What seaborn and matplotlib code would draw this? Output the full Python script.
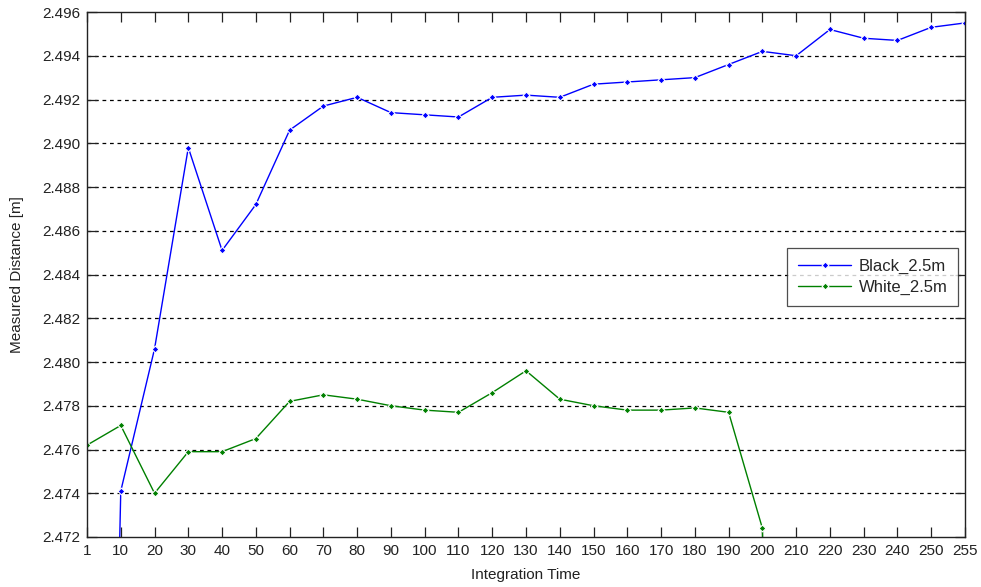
import numpy as np
import pandas as pd
import seaborn as sns
import matplotlib
matplotlib.use("Agg")
import matplotlib.pyplot as plt

# Integration time settings (evenly spaced on the axis)
integration_time = ["1", "10", "20", "30", "40", "50", "60", "70", "80", "90",
                    "100", "110", "120", "130", "140", "150", "160", "170", "180",
                    "190", "200", "210", "220", "230", "240", "250", "255"]

# Measured distance for the black target [m]
black_2_5m = [2.4046, 2.4741, 2.4806, 2.4898, 2.4851, 2.4872, 2.4906, 2.4917,
              2.4921, 2.4914, 2.4913, 2.4912, 2.4921, 2.4922, 2.4921, 2.4927,
              2.4928, 2.4929, 2.4930, 2.4936, 2.4942, 2.4940, 2.4952, 2.4948,
              2.4947, 2.4953, 2.4955]

# Measured distance for the white target [m]
white_2_5m = [2.4762, 2.4771, 2.4740, 2.4759, 2.4759, 2.4765, 2.4782, 2.4785,
              2.4783, 2.4780, 2.4778, 2.4777, 2.4786, 2.4796, 2.4783, 2.4780,
              2.4778, 2.4778, 2.4779, 2.4777, 2.4724, 2.4000]

series_names = ["Black_2.5m", "White_2.5m"]
series_colors = ["#0000ff", "#008000"]

pos = np.arange(len(integration_time))
df = pd.concat([
    pd.DataFrame({"pos": pos[:len(black_2_5m)], "dist": black_2_5m,
                  "series": series_names[0]}),
    pd.DataFrame({"pos": pos[:len(white_2_5m)], "dist": white_2_5m,
                  "series": series_names[1]}),
], ignore_index=True)

sns.set_theme(style="ticks")
plt.rcParams["font.family"] = ["Liberation Sans", "DejaVu Sans"]
plt.rcParams["xtick.direction"] = "in"
plt.rcParams["ytick.direction"] = "in"
plt.rcParams["xtick.top"] = True
plt.rcParams["ytick.right"] = True

fig = plt.figure(figsize=(9.81, 5.87), dpi=100)
ax = fig.add_axes([87 / 981, 50 / 587, 878 / 981, 525 / 587])

sns.lineplot(data=df, x="pos", y="dist", hue="series",
             palette=dict(zip(series_names, series_colors)),
             marker="D", markersize=3.5, markeredgewidth=0.8,
             linewidth=1.0, ax=ax, sort=False, estimator=None)

ax.set_xlim(0, len(integration_time) - 1)
ax.set_ylim(2.472, 2.496)
ax.set_xticks(pos)
ax.set_xticklabels(integration_time)
yt = np.arange(2.472, 2.4961, 0.002)
ax.set_yticks(yt)
ax.set_yticklabels([f"{v:.3f}" for v in yt])

ax.tick_params(axis="both", which="major", direction="in", length=7,
               width=0.9, color="#222222", labelsize=11, labelcolor="#222222",
               top=True, right=True, bottom=True, left=True,
               labeltop=False, labelright=False)
ax.tick_params(axis="x", pad=5)
ax.tick_params(axis="y", pad=5)

for sp in ax.spines.values():
    sp.set_visible(True)
    sp.set_color("#222222")
    sp.set_linewidth(1.0)

# Horizontal dashed grid only
for v in yt[1:-1]:
    ax.axhline(v, color="black", linestyle=(0, (3, 3)), linewidth=0.9, zorder=0.5)
ax.grid(False)

ax.set_xlabel("Integration Time", fontsize=11, color="#222222")
ax.set_ylabel("Measured Distance [m]", fontsize=11, color="#222222")
ax.xaxis.set_label_coords(0.5, (537 - 575) / 525)
ax.xaxis.label.set_va("center")
ax.yaxis.set_label_coords((17 - 87) / 878, 0.5)
ax.yaxis.label.set_va("center")

leg = ax.legend(loc="upper left", bbox_to_anchor=(787 / 981, (587 - 248) / 587),
                bbox_transform=fig.transFigure, frameon=True, fancybox=False,
                edgecolor="#222222", fontsize=12, handlelength=3.2,
                borderpad=0.65, labelspacing=0.35, handletextpad=0.45,
                borderaxespad=0)
leg.get_frame().set_linewidth(0.9)

fig.savefig("out.png", dpi=100, facecolor="white")
